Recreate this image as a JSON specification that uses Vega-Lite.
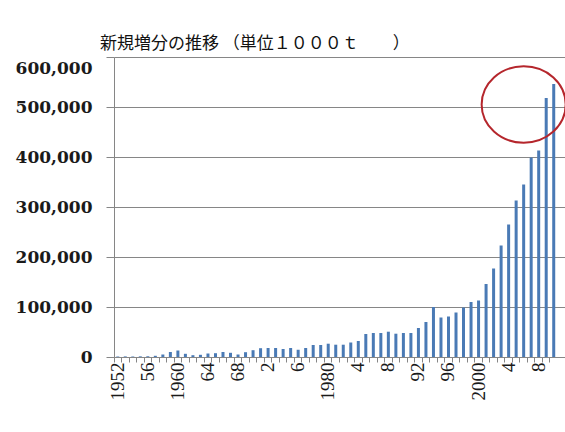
{
  "$schema": "https://vega.github.io/schema/vega-lite/v6.json",
  "width": 451,
  "height": 300,
  "autosize": {"type": "none"},
  "padding": {"left": 114, "top": 57, "right": 0, "bottom": 75},
  "background": "white",
  "title": {
    "text": "新規増分の推移 （単位１０００ｔ　　）",
    "anchor": "start",
    "frame": "group",
    "dx": -14,
    "offset": -9,
    "baseline": "alphabetic",
    "font": "Noto Sans CJK JP",
    "fontSize": 17,
    "fontWeight": "normal",
    "color": "#111111"
  },
  "config": {
    "view": {"stroke": null},
    "axis": {"titlePadding": 0}
  },
  "datasets": {
    "increase": [
      {"year": 1952, "value": 1000},
      {"year": 1953, "value": 1200},
      {"year": 1954, "value": 1000},
      {"year": 1955, "value": 1300},
      {"year": 1956, "value": 1500},
      {"year": 1957, "value": 2400},
      {"year": 1958, "value": 5000},
      {"year": 1959, "value": 10000},
      {"year": 1960, "value": 13000},
      {"year": 1961, "value": 6400},
      {"year": 1962, "value": 3600},
      {"year": 1963, "value": 4400},
      {"year": 1964, "value": 7000},
      {"year": 1965, "value": 7600},
      {"year": 1966, "value": 10000},
      {"year": 1967, "value": 8400},
      {"year": 1968, "value": 5000},
      {"year": 1969, "value": 9600},
      {"year": 1970, "value": 13600},
      {"year": 1971, "value": 17600},
      {"year": 1972, "value": 18000},
      {"year": 1973, "value": 18000},
      {"year": 1974, "value": 16000},
      {"year": 1975, "value": 18000},
      {"year": 1976, "value": 14500},
      {"year": 1977, "value": 18000},
      {"year": 1978, "value": 24000},
      {"year": 1979, "value": 24000},
      {"year": 1980, "value": 26600},
      {"year": 1981, "value": 24600},
      {"year": 1982, "value": 24600},
      {"year": 1983, "value": 29000},
      {"year": 1984, "value": 32000},
      {"year": 1985, "value": 46000},
      {"year": 1986, "value": 48000},
      {"year": 1987, "value": 48000},
      {"year": 1988, "value": 50600},
      {"year": 1989, "value": 46600},
      {"year": 1990, "value": 48000},
      {"year": 1991, "value": 48000},
      {"year": 1992, "value": 58000},
      {"year": 1993, "value": 70000},
      {"year": 1994, "value": 100000},
      {"year": 1995, "value": 79000},
      {"year": 1996, "value": 81000},
      {"year": 1997, "value": 89000},
      {"year": 1998, "value": 99000},
      {"year": 1999, "value": 110000},
      {"year": 2000, "value": 113000},
      {"year": 2001, "value": 146000},
      {"year": 2002, "value": 177000},
      {"year": 2003, "value": 223000},
      {"year": 2004, "value": 265000},
      {"year": 2005, "value": 313000},
      {"year": 2006, "value": 345000},
      {"year": 2007, "value": 399000},
      {"year": 2008, "value": 413000},
      {"year": 2009, "value": 518000},
      {"year": 2010, "value": 546000}
    ],
    "highlight": [
      {"year": 2006, "value": 505000}
    ]
  },
  "encoding": {
    "y": {
      "field": "value",
      "type": "quantitative",
      "scale": {"domain": [0, 600000], "nice": false},
      "axis": {
        "title": null,
        "values": [0, 100000, 200000, 300000, 400000, 500000, 600000],
        "format": ",d",
        "grid": true,
        "gridColor": "#868686",
        "gridOpacity": 1,
        "domain": true,
        "domainColor": "#868686",
        "ticks": true,
        "tickColor": "#868686",
        "tickSize": 8,
        "labelPadding": 14,
        "labelFont": "DejaVu Serif",
        "labelFontWeight": "bold",
        "labelFontSize": 17,
        "labelColor": "#1a1a1a",
        "labelOffset": {"condition": {"test": "datum.value === 600000", "value": 11}, "value": 0}
      }
    }
  },
  "resolve": {"axis": {"x": "independent"}},
  "layer": [
    {
      "data": {"name": "increase"},
      "mark": {"type": "bar", "color": "#4a7ab5", "width": {"band": 0.4}},
      "encoding": {
        "x": {
          "field": "year",
          "type": "ordinal",
          "sort": "ascending",
          "scale": {
            "type": "band",
            "domain": [1952,1953,1954,1955,1956,1957,1958,1959,1960,1961,1962,1963,1964,1965,1966,1967,1968,1969,1970,1971,1972,1973,1974,1975,1976,1977,1978,1979,1980,1981,1982,1983,1984,1985,1986,1987,1988,1989,1990,1991,1992,1993,1994,1995,1996,1997,1998,1999,2000,2001,2002,2003,2004,2005,2006,2007,2008,2009,2010],
            "paddingInner": 0,
            "paddingOuter": 0.5,
            "align": 0
          },
          "axis": {
            "orient": "bottom",
            "title": null,
            "labels": false,
            "grid": false,
            "ticks": true,
            "tickSize": 5,
            "tickColor": "#868686",
            "domainColor": "#868686",
            "bandPosition": 0
          }
        }
      }
    },
    {
      "data": {"name": "highlight"},
      "mark": {
        "type": "point",
        "shape": "M -1.1 0 A 1.1 1 0 1 1 1.1 0 A 1.1 1 0 1 1 -1.1 0 Z",
        "filled": false,
        "stroke": "#b5262c",
        "strokeWidth": 2,
        "size": 5837,
        "opacity": 1
      },
      "encoding": {
        "x": {
          "field": "year",
          "type": "ordinal",
          "axis": {
            "orient": "bottom",
            "title": null,
            "values": [1952,1956,1960,1964,1968,1972,1976,1980,1984,1988,1992,1996,2000,2004,2008],
            "labelExpr": "indexof([1952,1960,1980,2000], datum.value) >= 0 ? '' + datum.value : indexof([1956,1964,1968,1992,1996], datum.value) >= 0 ? '' + (datum.value % 100) : '' + (datum.value % 10)",
            "ticks": false,
            "domain": false,
            "grid": false,
            "bandPosition": 0.5,
            "labelAngle": -90,
            "labelPadding": 5,
            "labelFont": "Liberation Serif",
            "labelFontSize": 19,
            "labelColor": "#1a1a1a",
            "labelOverlap": false,
            "labelBound": false
          }
        }
      }
    }
  ]
}
